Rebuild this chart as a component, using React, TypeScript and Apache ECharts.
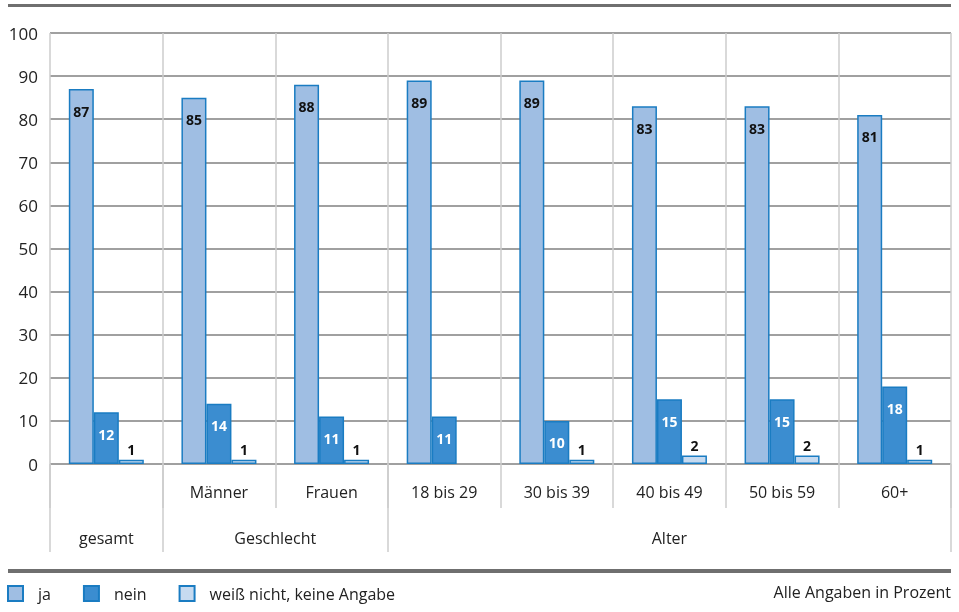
import React, { useEffect, useRef } from "react";
import * as echarts from "echarts";

const categories = ["", "Männer", "Frauen", "18 bis 29", "30 bis 39", "40 bis 49", "50 bis 59", "60+"];
const groupNames = ["gesamt", "Geschlecht", "Alter"];
const groupSpans = [1, 2, 5];
const seriesNames = ["ja", "nein", "weiß nicht, keine Angabe"];
const ja = [87, 85, 88, 89, 89, 83, 83, 81];
const nein = [12, 14, 11, 11, 10, 15, 15, 18];
const weissNicht = [1, 1, 1, 0, 1, 2, 2, 1];
const yMin = 0;
const yMax = 100;
const yInterval = 10;
const noteText = "Alle Angaben in Prozent";

const FONT = "'Open Sans', 'Noto Sans', sans-serif";
const BORDER = "#1a7cc2";

export default function App() {
  const ref = useRef<HTMLDivElement>(null);
  useEffect(() => {
    if (!ref.current) return;
    const chart = echarts.init(ref.current, null, { renderer: "svg" });

    const boundaries: number[] = [0];
    const centers: number[] = [];
    let acc = 0;
    groupSpans.forEach((s) => {
      centers.push(acc + s / 2);
      acc += s;
      boundaries.push(acc);
    });

    const noZero = (arr: number[]) => arr.map((v) => (v === 0 ? "-" : v));
    const labelFmt = (p: any) => (p.value === 0 ? "" : String(p.value));

    const option: any = {
      animation: false,
      textStyle: { fontFamily: FONT },
      grid: { left: 50, right: 8, top: 33, bottom: 148 },
      xAxis: [
        {
          type: "category",
          data: categories,
          boundaryGap: true,
          axisLine: { show: false },
          axisTick: { show: true, length: 44, lineStyle: { color: "#cccccc", width: 1.5 } },
          axisLabel: { margin: 20, fontSize: 16, color: "#222", fontFamily: FONT },
          splitLine: { show: true, lineStyle: { color: "#cccccc", width: 1.5 } },
          z: 1,
        },
        {
          type: "value",
          min: 0,
          max: categories.length,
          position: "bottom",
          offset: 0,
          axisLine: { show: false },
          splitLine: { show: false },
          axisTick: {
            show: true,
            length: 88,
            customValues: boundaries,
            lineStyle: { color: "#cccccc", width: 1.5 },
          },
          axisLabel: {
            show: true,
            margin: 66,
            fontSize: 16,
            color: "#222",
            fontFamily: FONT,
            customValues: centers,
            formatter: (v: number) => {
              const i = centers.findIndex((c) => Math.abs(c - v) < 1e-6);
              return i >= 0 ? groupNames[i] : "";
            },
          },
        },
      ],
      yAxis: {
        type: "value",
        min: yMin,
        max: yMax,
        interval: yInterval,
        axisLine: { show: false },
        axisTick: { show: false },
        axisLabel: { margin: 12, fontSize: 17, color: "#222", fontFamily: FONT },
        splitLine: { show: true, lineStyle: { color: "#808080", width: 1.5 } },
      },
      legend: {
        left: 7,
        top: 585,
        padding: 0,
        itemWidth: 15,
        itemHeight: 15,
        itemGap: 32,
        icon: "rect",
        data: seriesNames,
        textStyle: { fontSize: 16, color: "#222", fontFamily: FONT, padding: [0, 0, 0, 10] },
      },
      series: [
        {
          name: seriesNames[0],
          type: "bar",
          data: noZero(ja),
          barWidth: 25,
          barGap: "0%",
          itemStyle: { color: "#9fbee3", borderColor: BORDER, borderWidth: 1.5 },
          label: {
            show: true,
            position: "insideTop",
            distance: 15,
            fontSize: 14,
            fontWeight: "bold",
            color: "#111",
            fontFamily: FONT,
            formatter: labelFmt,
          },
          z: 3,
        },
        {
          name: seriesNames[1],
          type: "bar",
          data: noZero(nein),
          barWidth: 25,
          barGap: "0%",
          itemStyle: { color: "#3b8dd0", borderColor: BORDER, borderWidth: 1.5 },
          label: {
            show: true,
            position: "insideTop",
            distance: 15,
            fontSize: 14,
            fontWeight: "bold",
            color: "#ffffff",
            fontFamily: FONT,
            formatter: labelFmt,
          },
          z: 3,
        },
        {
          name: seriesNames[2],
          type: "bar",
          data: noZero(weissNicht),
          barWidth: 25,
          barGap: "0%",
          itemStyle: { color: "#c6daf0", borderColor: BORDER, borderWidth: 1.5 },
          label: {
            show: true,
            position: "top",
            distance: 3,
            fontSize: 14,
            fontWeight: "bold",
            color: "#111",
            fontFamily: FONT,
            formatter: labelFmt,
          },
          z: 3,
        },
      ],
      graphic: [
        { type: "rect", shape: { x: 8, y: 4, width: 943, height: 3 }, style: { fill: "#6f6f6f" } },
        { type: "rect", shape: { x: 8, y: 569, width: 943, height: 4 }, style: { fill: "#6f6f6f" } },
        {
          type: "text",
          right: 8,
          top: 584,
          style: { text: noteText, fontSize: 16, fill: "#222", fontFamily: FONT },
        },
      ],
    };
    chart.setOption(option);
    return () => chart.dispose();
  }, []);
  return <div ref={ref} style={{ position: "fixed", left: 0, top: 0, width: 959, height: 612 }} />;
}
